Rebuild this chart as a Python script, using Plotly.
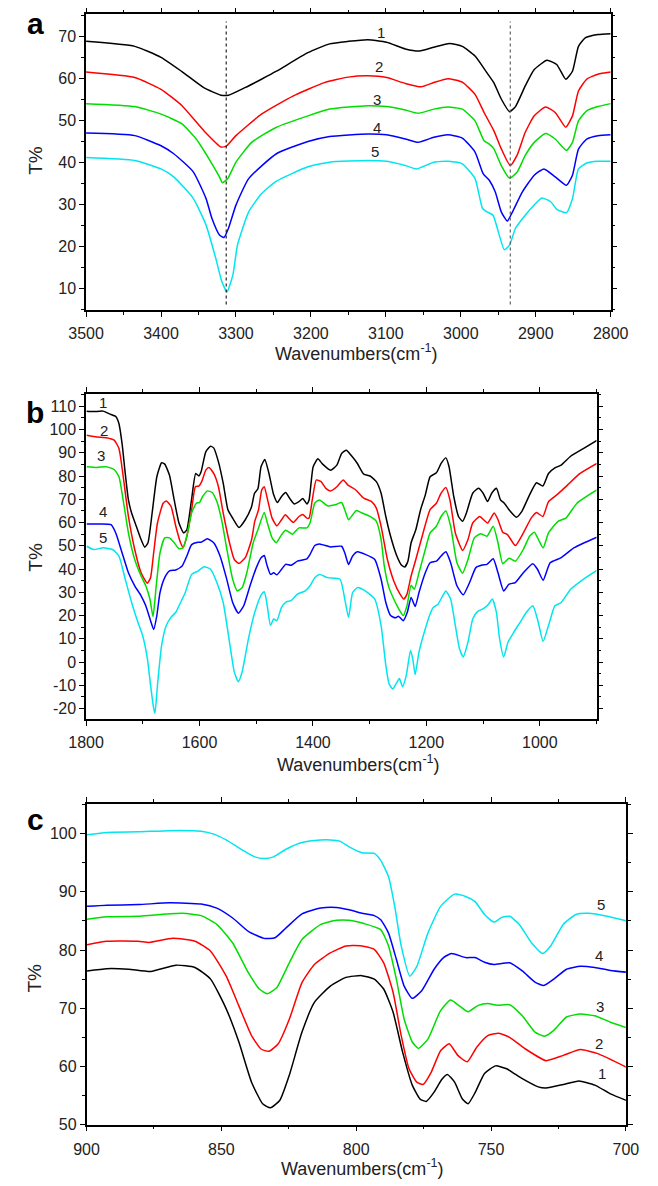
import plotly.graph_objects as go

FONT = "Liberation Sans, Arial, sans-serif"
COLORS = ["#000000", "#ff0000", "#00dd00", "#0000ff", "#00e5ee"]
CURVE_NAMES = ["1", "2", "3", "4", "5"]

# ---------------- Panel a : (wavenumber, T%) ----------------
A1 = [(3500,68.8),(3435,67.6),(3400,65.0),(3372,61.6),(3343,57.8),(3320,56.0),(3310,56.0),(3288,57.8),(3266,59.8),(3246,61.7),(3204,66.1),(3175,68.2),(3150,68.8),(3124,69.2),(3099,68.6),(3074,67.0),(3055,66.5),(3036,67.4),(3015,68.3),(2998,67.6),(2981,65.3),(2965,61.3),(2956,59.0),(2946,55.1),(2935,52.1),(2927,53.3),(2914,58.2),(2902,62.1),(2885,64.3),(2872,63.3),(2860,59.8),(2851,61.7),(2843,67.6),(2834,69.6),(2817,70.4),(2800,70.6)]
A2 = [(3500,61.5),(3435,60.2),(3400,57.4),(3372,53.5),(3343,47.6),(3320,43.7),(3313,43.9),(3300,46.4),(3266,51.5),(3224,55.8),(3182,59.0),(3150,60.3),(3124,60.6),(3099,60.2),(3074,58.8),(3053,58.0),(3036,59.0),(3017,59.9),(2998,59.1),(2981,56.2),(2969,51.9),(2956,47.6),(2946,43.3),(2934,39.3),(2925,41.7),(2914,47.2),(2902,51.1),(2887,53.2),(2874,51.9),(2860,48.4),(2851,51.1),(2843,57.0),(2832,59.8),(2817,61.0),(2800,61.5)]
A3 = [(3500,54.0),(3435,53.3),(3400,51.5),(3372,49.2),(3353,45.6),(3336,40.9),(3322,36.6),(3318,35.2),(3311,36.2),(3300,40.1),(3279,44.8),(3246,48.4),(3204,51.1),(3175,52.7),(3124,53.5),(3099,53.3),(3074,52.5),(3057,51.7),(3036,52.7),(3017,53.2),(2998,52.7),(2981,49.9),(2969,45.2),(2962,44.4),(2956,43.3),(2946,39.3),(2935,36.3),(2925,37.7),(2914,41.7),(2902,44.8),(2887,46.9),(2874,45.6),(2859,42.9),(2851,44.8),(2843,49.9),(2832,52.3),(2817,53.3),(2800,54.0)]
A4 = [(3500,47.0),(3435,46.4),(3400,44.0),(3383,42.1),(3357,37.8),(3340,31.5),(3332,26.7),(3322,22.8),(3316,22.2),(3310,24.4),(3300,29.9),(3283,36.2),(3246,42.1),(3204,45.0),(3175,46.2),(3124,46.8),(3099,46.6),(3074,45.6),(3057,44.8),(3036,46.0),(3017,46.6),(2998,45.8),(2981,42.5),(2970,37.3),(2962,35.8),(2954,33.0),(2946,28.3),(2938,26.1),(2931,28.3),(2918,33.0),(2902,37.0),(2889,38.5),(2874,36.6),(2859,34.6),(2851,37.0),(2843,43.2),(2832,45.6),(2817,46.4),(2800,46.6)]
A5 = [(3500,41.2),(3435,40.5),(3400,38.5),(3383,36.6),(3357,31.5),(3340,25.2),(3327,17.3),(3319,11.8),(3312,9.3),(3304,13.4),(3298,20.4),(3283,28.3),(3266,32.6),(3246,35.6),(3204,39.0),(3175,40.1),(3124,40.5),(3099,40.3),(3074,39.3),(3059,38.5),(3036,40.1),(3017,40.3),(2998,39.7),(2981,36.2),(2971,29.1),(2965,28.3),(2957,27.5),(2950,23.6),(2942,19.3),(2935,20.4),(2927,24.4),(2914,27.5),(2902,29.9),(2892,31.6),(2880,30.7),(2872,28.9),(2859,28.1),(2851,31.4),(2843,38.5),(2832,39.9),(2817,40.3),(2800,40.3)]
A_DOTTED_WN = [3313, 2934]
A_DOTTED_T = [6.3, 73.5]
A_LABEL_POS = [(3106,71.0),(3109,62.9),(3112,55.1),(3112,48.4),(3114,42.7)]

# ---------------- Panel b ----------------
B1 = [(1799,107.9),(1786.6,107.7),(1770,107.9),(1758.7,106.7),(1747.6,105.6),(1742,102.5),(1736.5,93.9),(1730.9,81.1),(1725.3,69.7),(1719.7,64.1),(1711.4,58.4),(1703,52.7),(1696.4,49.4),(1690.8,51.3),(1683.5,64.1),(1675.2,79.7),(1666.8,85.7),(1661.3,85.1),(1653,80.4),(1644.6,69.7),(1636.2,59.8),(1627.9,55.5),(1622.3,56.9),(1614.1,69.7),(1606.7,81.1),(1601.1,80.0),(1597.2,81.8),(1588.9,90.4),(1580.5,92.8),(1575,92.1),(1566.6,86.1),(1558.2,76.9),(1549.9,65.5),(1541.5,61.9),(1530.4,57.9),(1519.3,61.2),(1508.1,66.9),(1503,72.6),(1497,74.5),(1491.5,84.0),(1484.8,87.1),(1477.5,81.1),(1469.2,71.9),(1462.5,68.6),(1455.3,71.2),(1448,72.9),(1441.3,70.5),(1433,68.0),(1424.6,69.0),(1417.9,70.3),(1410.7,68.0),(1406.8,69.7),(1399.6,84.0),(1391.2,87.4),(1382.9,85.1),(1368.9,82.5),(1357.8,84.7),(1349.4,89.7),(1341,91.1),(1332.7,88.9),(1321.6,85.4),(1310.5,80.8),(1299.3,80.0),(1288.2,77.6),(1279.8,72.6),(1271.5,62.6),(1263.1,54.1),(1252,45.6),(1243.6,41.6),(1238.1,40.9),(1232.5,43.4),(1226.9,51.3),(1218.6,56.9),(1210.2,65.5),(1201.8,71.9),(1193.4,79.7),(1182.3,81.4),(1174,85.4),(1165.6,87.8),(1160,84.0),(1151.7,71.2),(1143.3,62.6),(1136.1,60.5),(1129.4,64.1),(1118.3,72.6),(1108.2,74.7),(1099.9,72.6),(1092.1,69.0),(1084.8,72.6),(1076.5,74.7),(1069.2,69.7),(1062.6,68.3),(1054.2,65.5),(1041.4,62.3),(1031.9,64.7),(1018,71.9),(1005.8,77.1),(994.6,75.7),(984.6,81.1),(973.4,83.5),(962.3,84.7),(945.6,88.5),(923.3,91.8),(899.4,95.3)]
B2 = [(1798.8,97.5),(1781,96.8),(1764.3,96.5),(1750.4,95.4),(1742,91.8),(1733.7,78.3),(1725.3,62.6),(1714.2,48.4),(1703,38.4),(1691.9,33.9),(1686.3,36.3),(1680.8,47.0),(1674.1,59.8),(1664.1,68.3),(1658.5,69.3),(1650.1,66.9),(1641.8,58.4),(1633.4,51.3),(1629,49.4),(1622.3,54.1),(1613.9,65.5),(1607.2,75.4),(1601.1,75.7),(1596.1,77.6),(1588.9,82.5),(1583.3,83.7),(1574.9,81.1),(1566.6,75.4),(1558.2,64.1),(1547.1,51.3),(1538.7,44.1),(1530.4,42.4),(1519.3,44.9),(1508.1,52.7),(1502.6,60.5),(1495.9,65.5),(1490.3,74.0),(1485.9,75.4),(1479.2,69.0),(1472,61.9),(1463.6,58.6),(1455.3,61.2),(1448.6,63.3),(1441.3,61.5),(1434.6,60.1),(1424.6,62.6),(1417.9,63.5),(1410.7,61.9),(1406.8,61.9),(1401.2,69.7),(1394,78.3),(1385.6,77.6),(1377.3,74.7),(1368.9,73.6),(1357.8,75.4),(1346.7,78.3),(1338.3,76.1),(1324.4,74.0),(1310.5,70.5),(1296.5,69.0),(1288.2,66.2),(1279.8,58.4),(1268.7,44.1),(1257.5,34.9),(1246.4,29.2),(1239.7,27.1),(1234.2,29.2),(1226.9,37.0),(1218.6,44.1),(1207.4,54.1),(1193.4,65.5),(1182.3,68.3),(1174,72.6),(1165.6,75.1),(1158.4,69.7),(1148.9,55.5),(1136.1,48.0),(1126.6,52.7),(1118.3,59.8),(1106,62.6),(1092.1,59.8),(1080.4,64.1),(1073.7,61.2),(1065.3,55.8),(1057,54.8),(1043.1,50.1),(1029.1,55.5),(1015.2,61.9),(1005.8,64.3),(994.6,62.6),(984.6,69.0),(967.9,72.3),(951.2,76.1),(928.9,81.1),(899.4,85.4)]
B3 = [(1798.8,84.0),(1781,83.7),(1764.3,84.0),(1750.4,82.8),(1742,79.7),(1733.7,68.3),(1725.3,55.5),(1714.2,44.1),(1703,37.0),(1694.7,32.8),(1687.4,27.1),(1681.9,19.5),(1676.3,32.8),(1669.6,47.0),(1661.3,53.4),(1652.9,53.4),(1644.6,51.3),(1636.2,48.7),(1629,49.1),(1622.3,54.1),(1613.9,64.1),(1605.6,68.3),(1600,68.6),(1594.4,71.2),(1586.1,73.6),(1577.7,72.9),(1569.4,69.0),(1561,61.2),(1552.7,49.8),(1541.5,35.6),(1533.2,30.6),(1524.8,32.0),(1516.5,38.4),(1505.3,51.3),(1497,56.9),(1485.9,64.3),(1480.3,59.8),(1472,53.4),(1464.7,51.3),(1455.3,54.8),(1448,56.7),(1435.8,55.0),(1424.6,57.7),(1410.7,57.7),(1405.1,59.8),(1396.8,68.3),(1388.4,69.7),(1374.5,67.2),(1360.6,67.6),(1349.4,68.6),(1343.9,65.5),(1337.2,61.2),(1330,63.3),(1323.3,65.2),(1313.2,64.1),(1299.3,62.6),(1288.2,60.5),(1279.8,52.7),(1274.2,41.3),(1265.9,32.0),(1257.5,27.1),(1249.2,23.1),(1240.8,20.0),(1234.2,24.2),(1226.9,33.0),(1221.3,31.3),(1213,38.4),(1201.9,48.4),(1193.4,55.5),(1182.3,58.4),(1174,62.6),(1165.6,65.0),(1157.2,58.4),(1146.1,42.7),(1136.1,38.2),(1126.6,44.1),(1115.5,53.4),(1104.3,55.2),(1093.2,54.1),(1082.1,58.4),(1073.7,51.3),(1065.3,42.3),(1054.2,44.6),(1043.1,43.4),(1029.1,48.4),(1018,54.1),(1009.6,55.8),(1002.4,52.7),(994.1,49.1),(984.6,55.5),(967.9,60.5),(954,61.9),(934.5,68.3),(899.4,74.0)]
B4 = [(1798.8,59.4),(1775.4,59.4),(1756,59.1),(1747.6,55.5),(1736.5,47.0),(1725.3,38.4),(1714.2,32.8),(1703,28.5),(1694.7,24.2),(1686.3,17.8),(1680.8,14.0),(1675.2,20.0),(1669.6,29.9),(1661.3,36.3),(1652.9,39.2),(1641.8,39.6),(1630.6,41.3),(1622.3,45.6),(1613.9,50.5),(1602.8,51.5),(1597.2,51.5),(1586.1,53.0),(1574.9,51.3),(1563.8,45.6),(1552.7,36.3),(1541.5,25.6),(1531.5,21.0),(1522,24.2),(1510.9,32.8),(1499.8,40.6),(1491.4,44.9),(1485.8,45.8),(1481.4,42.0),(1474.8,37.7),(1469.2,38.4),(1463.6,37.5),(1455.3,39.9),(1448,42.0),(1438.6,41.6),(1427.4,43.4),(1410.7,44.4),(1405.1,46.3),(1396.8,50.1),(1388.4,50.8),(1368.9,49.5),(1349.4,49.8),(1343.9,47.0),(1337.2,42.0),(1330,45.6),(1321.6,47.4),(1307.7,46.3),(1291,44.1),(1279.8,35.6),(1271.5,25.6),(1263.1,20.0),(1254.8,19.0),(1249.2,19.7),(1240.8,17.8),(1233.6,21.4),(1226.9,27.8),(1219.7,23.9),(1213,29.9),(1201.9,38.4),(1193.4,42.7),(1182.3,43.4),(1174,45.6),(1165.6,47.4),(1157.2,42.7),(1146.1,32.8),(1135,28.9),(1123.8,34.2),(1112.7,40.6),(1101.6,41.7),(1093.2,42.0),(1082.1,44.4),(1073.7,38.4),(1063.7,30.6),(1054.2,33.5),(1043.1,34.2),(1029.1,38.4),(1012.4,42.3),(1004.1,39.9),(994.1,35.2),(981.8,42.7),(962.3,44.9),(940,49.1),(899.4,53.7)]
B5 = [(1798.8,49.8),(1786.6,48.4),(1769.9,49.1),(1753.2,48.4),(1742,45.6),(1730.9,35.6),(1719.7,25.6),(1708.6,17.1),(1700.3,11.4),(1691.9,1.5),(1686.3,-9.9),(1680.8,-19.9),(1678.5,-22.0),(1674.1,-9.9),(1666.8,7.2),(1658.5,15.7),(1650.1,19.3),(1641.8,21.4),(1633.4,25.6),(1625.1,29.9),(1613.9,37.7),(1602.8,39.1),(1591.7,41.0),(1580.5,39.9),(1569.4,34.2),(1558.2,25.6),(1547.1,8.6),(1538.7,-4.2),(1531.5,-8.5),(1524.8,-4.2),(1513.7,10.0),(1502.5,21.4),(1491.4,28.8),(1485.8,30.2),(1481.4,25.6),(1474.8,15.7),(1469.2,18.5),(1463.6,17.8),(1455.3,23.5),(1446.9,25.9),(1438.6,26.4),(1427.4,29.2),(1413.5,30.6),(1405.1,32.8),(1396.8,36.3),(1388.4,37.7),(1374.5,36.3),(1352.2,35.6),(1343.9,27.1),(1337.2,19.2),(1330,29.9),(1321.6,32.0),(1307.7,30.6),(1291,27.1),(1279.8,15.7),(1271.5,-1.4),(1265.9,-9.2),(1259.2,-11.6),(1253.1,-9.2),(1247.5,-7.1),(1242,-10.6),(1235.3,-5.6),(1228,5.0),(1224.1,1.5),(1219.7,-5.4),(1213,4.3),(1201.9,14.3),(1193.4,20.7),(1187.9,23.5),(1179.5,24.9),(1171.2,28.5),(1165.6,30.6),(1157.2,27.1),(1148.9,15.7),(1141.6,5.7),(1135,2.2),(1126.6,8.6),(1118.3,18.5),(1109.9,21.7),(1098.8,23.1),(1090.4,24.9),(1083.7,27.1),(1076.5,21.4),(1070.9,10.0),(1063.7,2.2),(1055.9,8.6),(1045.9,12.8),(1034.7,17.1),(1023.6,21.4),(1012.4,24.2),(1004.1,18.5),(994.1,8.9),(984.6,15.7),(973.4,24.2),(962.3,25.6),(945.6,31.3),(923.3,35.6),(899.4,39.4)]
B_LABEL_POS = [(1771,111.7),(1768,99.6),(1773,89.0),(1771,64.8),(1771,53.4)]

# ---------------- Panel c ----------------
C1 = [(899.8,76.4),(892.5,76.8),(884.4,76.7),(876.2,76.3),(866.8,77.4),(859.8,77.0),(854,75.0),(848.2,69.9),(843.5,64.2),(838.8,57.3),(834.7,53.6),(831.8,52.9),(828.3,54.2),(824.8,58.5),(820.1,65.9),(815.5,71.0),(809.6,73.8),(803.8,75.3),(797.9,75.6),(793.3,75.0),(789.8,73.3),(786.3,69.3),(782.8,62.5),(779.2,56.8),(776.3,54.4),(774,54.0),(771.1,55.6),(768.2,57.8),(766.1,58.6),(763.5,57.3),(760.6,54.4),(758.5,53.6),(755.9,55.5),(752.4,58.8),(748.3,60.1),(744.2,59.6),(738.4,57.9),(732.5,56.5),(729.6,56.3),(723.2,56.9),(717.4,57.5),(711.5,56.8),(705.7,55.3),(699.9,54.2)]
C2 = [(899.8,80.9),(892.5,81.5),(880.8,81.5),(876.8,81.3),(868,82.0),(859.8,81.5),(854,79.8),(848.2,75.5),(843.5,70.4),(838.8,65.3),(835.3,63.0),(832.4,62.6),(828.9,63.9),(824.8,68.1),(820.1,74.4),(815.5,77.5),(809.6,79.5),(803.8,80.7),(797.9,80.7),(793.3,80.1),(789.8,77.8),(786.3,72.7),(783.3,65.3),(780.4,59.6),(777.5,57.3),(775.2,56.9),(772.2,59.0),(768.7,62.7),(765.5,63.9),(762.3,61.9),(758.8,60.8),(755.3,63.3),(751.2,65.3),(747.1,65.7),(743.1,65.0),(737.2,63.0),(729.6,61.0),(723.2,61.9),(716.8,62.9),(710.4,62.2),(699.9,59.9)]
C3 = [(899.8,85.3),(892.5,85.7),(880.8,85.8),(875,86.0),(864.5,86.3),(857.5,85.9),(851.7,84.4),(845.8,81.2),(840,76.1),(835.9,73.3),(833,72.5),(829.5,73.5),(824.8,77.8),(820.1,81.8),(813.1,84.4),(807.3,85.1),(802.6,85.1),(796.8,84.5),(790.9,83.5),(788,80.7),(785.1,75.0),(782.2,68.1),(779.2,64.2),(776.9,63.1),(773.4,64.7),(768.7,69.6),(765,71.4),(761.7,70.4),(758.5,69.4),(754.7,70.5),(751.2,70.8),(747.7,70.5),(743.1,70.6),(738.4,68.7),(733.7,65.9),(730.2,65.2),(726.7,66.2),(722,68.5),(716.8,69.0),(711.5,68.7),(705.7,67.6),(699.9,66.7)]
C4 = [(899.8,87.5),(892.5,87.7),(880.8,87.8),(869.2,88.1),(857.5,87.9),(851.7,87.2),(845.8,85.5),(840,83.2),(834.2,82.0),(830.1,82.1),(826,83.8),(820.1,86.2),(813.1,87.2),(807.3,87.3),(802.6,86.9),(797.9,86.3),(793.3,85.9),(790.9,85.2),(788,82.9),(785.1,78.4),(782.2,73.8),(779.2,71.7),(775.7,73.0),(771.1,76.7),(767.6,78.7),(764.7,79.4),(759.4,78.7),(755.9,78.7),(752.4,77.9),(748.9,77.5),(743.1,77.8),(738.4,76.4),(733.7,74.5),(730.4,73.9),(726.7,75.0),(722,76.7),(716.8,77.2),(711.5,77.0),(705.7,76.5),(699.9,76.2)]
C5 = [(899.8,99.8),(892.5,100.2),(880.8,100.3),(869.2,100.5),(857.5,100.4),(852.8,99.9),(848.2,98.9),(842.3,97.2),(837.6,96.0),(834.2,95.7),(830.6,96.0),(826,97.3),(821.3,98.3),(815.5,98.8),(809.6,98.9),(806.1,98.7),(802.6,97.7),(797.9,96.7),(793.3,96.6),(790.9,95.4),(788,92.6),(785.7,87.5),(783.3,80.7),(780.1,75.5),(777.5,77.2),(773.4,82.9),(768.7,87.5),(763.5,89.6),(759.4,89.2),(755.9,88.3),(752.4,86.1),(748.9,84.8),(746,85.6),(743.1,85.8),(739.5,84.4),(734.9,81.2),(730.8,79.4),(727.9,80.7),(723.2,84.4),(718.5,86.1),(713.9,86.3),(706.9,85.8),(699.9,85.0)]
C_LABEL_POS = [(709.0,58.8),(710.0,64.0),(709.5,70.3),(709.8,79.0),(709.2,87.9)]

# ticks
A_XTICKS = [3500, 3400, 3300, 3200, 3100, 3000, 2900, 2800]
A_YTICKS = [10, 20, 30, 40, 50, 60, 70]
B_XTICKS = [1800, 1600, 1400, 1200, 1000]
B_YTICKS = [-20, -10, 0, 10, 20, 30, 40, 50, 60, 70, 80, 90, 100, 110]
B_YLABELS = ["-20", "-10", "0", "10", "20", "30", "40", "50", "60", "70", "80", "90", "100", "110"]
C_XTICKS = [900, 850, 800, 750, 700]
C_YTICKS = [50, 60, 70, 80, 90, 100]

W, H = 658, 1186

fig = go.Figure()


def add_curves(curves, xa, ya):
    for pts, col in zip(curves, COLORS):
        fig.add_trace(go.Scatter(
            x=[p[0] for p in pts], y=[p[1] for p in pts], mode="lines",
            line=dict(color=col, width=1.5, shape="spline", smoothing=0.5),
            xaxis=xa, yaxis=ya, showlegend=False, hoverinfo="skip"))


add_curves([A1, A2, A3, A4, A5], "x", "y")
add_curves([B1, B2, B3, B4, B5], "x2", "y2")
add_curves([C1, C2, C3, C4, C5], "x3", "y3")

for wn, col in zip(A_DOTTED_WN, ["#111111", "#555555"]):
    fig.add_trace(go.Scatter(x=[wn, wn], y=A_DOTTED_T, mode="lines",
                             line=dict(color=col, width=1.1, dash="dot"),
                             xaxis="x", yaxis="y", showlegend=False, hoverinfo="skip"))


def axis(domain, rng, tickvals, minor_dtick, anchor, ticktext=None):
    d = dict(domain=domain, range=rng, anchor=anchor, tickmode="array",
             tickvals=tickvals,
             ticktext=ticktext if ticktext else [str(v) for v in tickvals],
             ticks="outside", ticklen=5, tickwidth=1.2, tickcolor="black",
             showline=True, linecolor="black", linewidth=1.5, mirror="ticks",
             showgrid=False, zeroline=False,
             tickfont=dict(family=FONT, size=16, color="#222"),
             minor=dict(tickmode="linear", tick0=0, dtick=minor_dtick,
                        ticks="outside", ticklen=3, tickwidth=1,
                        tickcolor="black", showgrid=False))
    return d


def px_x(px):
    return px / W


def px_y(py):
    return 1 - py / H


xa = axis([px_x(72), px_x(627)], [3500, 2800], A_XTICKS, 50, "y")
xa["ticklabelstandoff"] = 3
ya = axis([px_y(312.3), px_y(14.5)], [5, 75.2], A_YTICKS, 5, "x")
xb = axis([px_x(72), px_x(612)], [1800, 900], B_XTICKS, 100, "y2")
xb["ticklabelstandoff"] = 3
yb = axis([px_y(725), px_y(396.7)], [-24.7, 115.4], B_YTICKS, 5, "x2", B_YLABELS)
xc = axis([px_x(72.5), px_x(643)], [900, 700], C_XTICKS, 25, "y3")
xc["ticklabelstandoff"] = 4
yc = axis([px_y(1133.3), px_y(810)], [50, 105.1], C_YTICKS, 5, "x3")

annotations = []
for (wx, ty), name in zip(A_LABEL_POS, CURVE_NAMES):
    annotations.append(dict(x=wx, y=ty, xref="x", yref="y", text=name, showarrow=False,
                            font=dict(family=FONT, size=15, color="#222")))
for (wx, ty), name in zip(B_LABEL_POS, CURVE_NAMES):
    annotations.append(dict(x=wx, y=ty, xref="x2", yref="y2", text=name, showarrow=False,
                            font=dict(family=FONT, size=15, color="#222")))
for (wx, ty), name in zip(C_LABEL_POS, CURVE_NAMES):
    annotations.append(dict(x=wx, y=ty, xref="x3", yref="y3", text=name, showarrow=False,
                            font=dict(family=FONT, size=15, color="#222")))

for letter, py in [("a", 24), ("b", 416), ("c", 826)]:
    annotations.append(dict(x=px_x(18), y=px_y(py), xref="paper", yref="paper",
                            text="<b>" + letter + "</b>", showarrow=False,
                            xanchor="center", yanchor="middle",
                            font=dict(family=FONT, size=30, color="black")))
for px, py in [(19, 161), (19, 561), (17, 986)]:
    annotations.append(dict(x=px_x(px), y=px_y(py), xref="paper", yref="paper",
                            text="T%", textangle=-90, showarrow=False,
                            xanchor="center", yanchor="middle",
                            font=dict(family=FONT, size=19, color="#222")))
for px, py in [(358, 355), (360, 769), (364, 1176)]:
    annotations.append(dict(x=px_x(px), y=px_y(py), xref="paper", yref="paper",
                            text="Wavenumbers(cm<sup>-1</sup>)", showarrow=False,
                            xanchor="center", yanchor="middle",
                            font=dict(family=FONT, size=18, color="#222")))

fig.update_layout(
    width=W, height=H, margin=dict(l=0, r=0, t=0, b=0),
    paper_bgcolor="white", plot_bgcolor="white",
    xaxis=xa, yaxis=ya, xaxis2=xb, yaxis2=yb, xaxis3=xc, yaxis3=yc,
    annotations=annotations, showlegend=False,
)

fig.write_html("out.html")
